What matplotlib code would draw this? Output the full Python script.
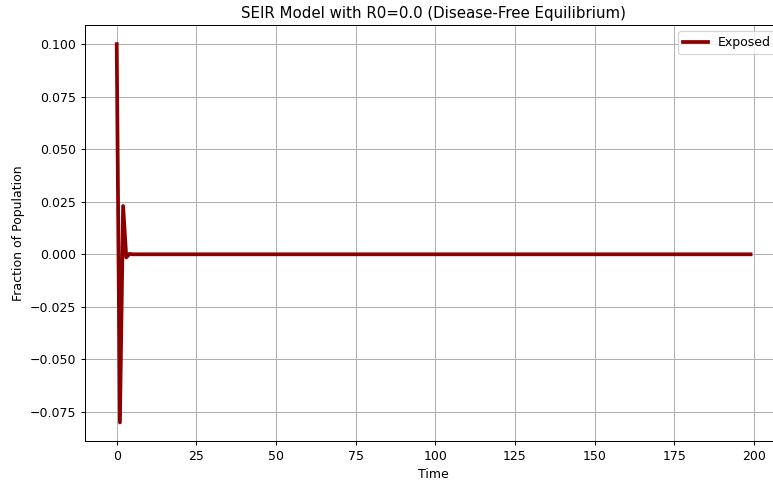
import numpy as np
import matplotlib.pyplot as plt

# time steps and exposed fraction
time = np.arange(0, 200)
exposed_start = [0.1, -0.08, 0.023, -0.0015, 0.0002]
exposed = np.array(exposed_start + [0.0] * (len(time) - len(exposed_start)))

dpi = 90
fig = plt.figure(figsize=(773 / dpi, 485 / dpi), dpi=dpi)
# the reference is cropped on the right, so the axes run past the figure edge
ax = fig.add_axes([0.110, 0.090, 0.902, 0.858])
ax.plot(time, exposed, color='darkred', linewidth=3, label='Exposed')
ax.set_xlabel('Time')
ax.set_ylabel('Fraction of Population')
ax.set_title('SEIR Model with R0=0.0 (Disease-Free Equilibrium)')
ax.legend(loc='upper right')
ax.grid(True)
ax.spines['right'].set_visible(False)

fig.savefig('out.png', dpi=dpi)
